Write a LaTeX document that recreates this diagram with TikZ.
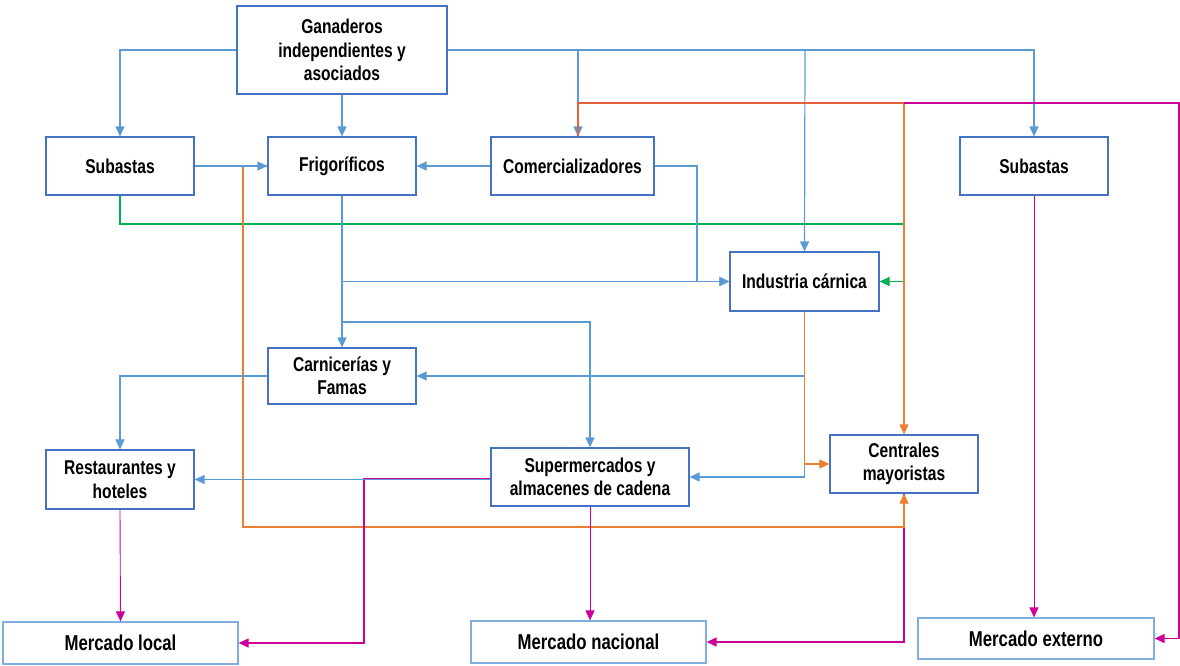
\documentclass[tikz,border=0pt]{standalone}
\usepackage{fontspec}
\setmainfont{Liberation Sans}[FakeStretch=0.78]
\usetikzlibrary{arrows.meta,calc}
\definecolor{boxc}{HTML}{4472C4}
\definecolor{boxl}{HTML}{7FAEE0}
\definecolor{bl}{HTML}{5B9BD5}
\definecolor{orc}{HTML}{ED7D31}
\definecolor{rdc}{HTML}{E2603C}
\definecolor{grc}{HTML}{00B050}
\definecolor{magc}{HTML}{CC0099}
\tikzset{
  box/.style={draw=boxc, line width=1.2pt, fill=white, rectangle, align=center,
    inner sep=2pt, font=\fontsize{20}{23.5}\selectfont\bfseries},
  mbox/.style={box, draw=boxl, font=\fontsize{21.5}{24}\selectfont\bfseries},
  conn/.style={line width=1.2pt, -{Triangle[length=10pt,width=9pt]}},
  plainline/.style={line width=1.2pt},
  arrB/.style={conn, color=bl},
  arrO/.style={conn, color=orc},
  arrG/.style={conn, color=grc},
  arrM/.style={conn, color=magc},
  thinM/.style={arrM, line width=0.9pt},
}
\begin{document}
\begin{tikzpicture}[x=1pt,y=-1pt]
\useasboundingbox (0,0) rectangle (1180,665);
% nodes
\node[box, minimum width=210pt, minimum height=88pt] (gan) at (342,50) {Ganaderos\\independientes y\\asociados};
\node[box, minimum width=148pt, minimum height=58pt] (subL) at (120,166) {Subastas};
\node[box, minimum width=148pt, minimum height=58pt] (frig) at (342,166) {Frigoríficos};
\node[box, minimum width=163pt, minimum height=58pt] (com) at (572.5,166) {Comercializadores};
\node[box, minimum width=148pt, minimum height=58pt] (subR) at (1034,166) {Subastas};
\node[box, minimum width=149pt, minimum height=59pt] (ind) at (804.5,281.5) {Industria cárnica};
\node[box, minimum width=148pt, minimum height=56pt] (carn) at (342,376) {Carnicerías y\\Famas};
\node[box, minimum width=148pt, minimum height=58pt] (cent) at (904,464) {Centrales\\mayoristas};
\node[box, minimum width=148pt, minimum height=59pt] (rest) at (120,479.5) {Restaurantes y\\hoteles};
\node[box, minimum width=198pt, minimum height=58pt] (super) at (590,477) {Supermercados y\\almacenes de cadena};
\node[mbox, minimum width=235pt, minimum height=42pt] (mloc) at (120.5,643) {Mercado local};
\node[mbox, minimum width=235pt, minimum height=42pt] (mnac) at (588.5,642) {Mercado nacional};
\node[mbox, minimum width=236pt, minimum height=41pt] (mext) at (1036,638.5) {Mercado externo};
% coordinates
\coordinate (comtop) at ($(com.north)+(5.5,0)$);
\coordinate (g1) at (578,50);
\coordinate (g2) at (805,50);
\coordinate (c1) at (697,281.5);
\coordinate (f1) at (342,281.5);
\coordinate (f2) at (342,322);
\coordinate (r1) at (904,103);
\coordinate (r2) at (1179,638.5);
\coordinate (gr1) at (904,224);
\coordinate (o1) at (243,166);
\coordinate (o2) at (904,527);
\coordinate (m2) at (364,643);
% green
\draw[arrG] (subL.south) |- (gr1) |- (ind.east);
% magenta centrales -> nacional, orange frigorificos -> centrales
\draw[arrM] (cent.south) |- (mnac.east);
\draw[arrO] (frig.west) -- (o1) |- (o2) -- (cent.south);
% blue from ganaderos
\draw[arrB] (gan.west) -| (subL.north);
\draw[arrB] (gan.south) -- (frig.north);
\draw[arrB] (gan.east) -| (subR.north);
\draw[arrB] (g1) -- (comtop);
\draw[arrB] (g2) -- (ind.north);
% row 2 blue
\draw[arrB] (subL.east) -- (frig.west);
\draw[arrB] (com.west) -- (frig.east);
\draw[arrB] (com.east) -| (c1) -- (ind.west);
\draw[arrB] (frig.south) -- (carn.north);
\draw[arrB] (f1) -- (ind.west);
\draw[arrB] (f2) -| (super.north);
% red / orange / magenta from comercializadores
\draw[plainline, rdc] (comtop) |- (r1);
\draw[arrO] (r1) -- (cent.north);
\draw[arrM] (r1) -| (r2) -- (mext.east);
\draw[thinM] (subR.south) -- (subR.south |- mext.north);
% industria
\draw[arrB] (ind.south) |- (super.east);
\draw[arrB] (ind.south |- carn.east) -- (carn.east);
\draw[arrO] (ind.south) |- (cent.west);
% carnicerias, supermercados
\draw[arrB] (carn.west) -| (rest.north);
\draw[arrM] ([yshift=-2pt]super.west) -| (m2) -- (mloc.east);
\draw[arrB] (super.west |- rest.east) -- (rest.east);
\draw[thinM] (rest.south) -- (mloc.north);
\draw[thinM] (super.south) -- (super.south |- mnac.north);
\end{tikzpicture}
\end{document}
